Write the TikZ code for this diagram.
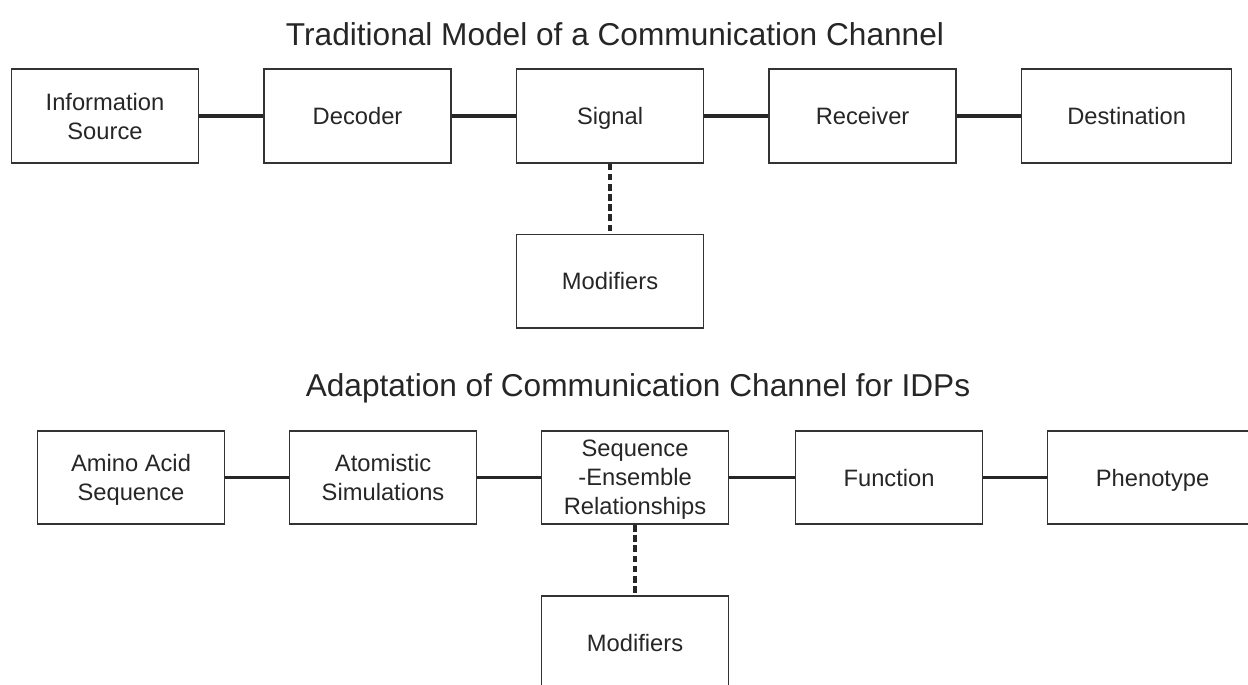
\documentclass[tikz,border=0pt]{standalone}
\usepackage{fontspec}
\setmainfont{Liberation Sans}
\usetikzlibrary{positioning}
\begin{document}
\begin{tikzpicture}[x=0.02cm, y=-0.02cm, node distance=1.28cm,
		every node/.style = {text=black!85},
		box/.style = {draw=black!80, line width=0.9pt, minimum width=3.74cm,
			minimum height=1.87cm, align=center, text depth=0pt,
			font=\fontsize{13.5}{16.5}\selectfont},
		widebox/.style = {box, minimum width=4.2cm},
		heading/.style = {font=\fontsize{18}{21}\selectfont, anchor=base},
		link/.style = {draw=black!85, line width=2pt},
		dashlink/.style = {link, dash pattern=on 3.8pt off 2pt}]
		\useasboundingbox (0,0) rectangle (1248,685);
		\clip (0,0) rectangle (1248,685);
		% traditional model
		\node[heading] (title1) at (615,46) {Traditional Model of a Communication Channel};
		\node[box] (source) at (105,116) {Information\\Source};
		\node[box, right=of source] (decoder) {Decoder};
		\node[box, right=of decoder] (signal) {Signal};
		\node[box, right=of signal] (receiver) {Receiver};
		\node[widebox, right=of receiver] (dest) {Destination};
		\node[box, below=1.4cm of signal] (mod1) {Modifiers};
		\draw[link] (source) -- (decoder);
		\draw[link] (decoder) -- (signal);
		\draw[link] (signal) -- (receiver);
		\draw[link] (receiver) -- (dest);
		\draw[dashlink] (signal) -- (mod1);
		% adaptation for IDPs
		\node[heading] (title2) at (638,397) {Adaptation of Communication Channel for IDPs};
		\node[box] (amino) at (131,477.5) {Amino Acid\\Sequence};
		\node[box, right=1.27cm of amino] (atomistic) {Atomistic\\Simulations};
		\node[box, right=1.27cm of atomistic] (ensemble) {Sequence\\-Ensemble\\Relationships};
		\node[box, right=1.31cm of ensemble] (function) {Function};
		\node[widebox, right=1.27cm of function] (phenotype) {Phenotype};
		\node[box, below=1.4cm of ensemble] (mod2) {Modifiers};
		\draw[link] (amino) -- (atomistic);
		\draw[link] (atomistic) -- (ensemble);
		\draw[link] (ensemble) -- (function);
		\draw[link] (function) -- (phenotype);
		\draw[dashlink] (ensemble) -- (mod2);
\end{tikzpicture}
\end{document}
